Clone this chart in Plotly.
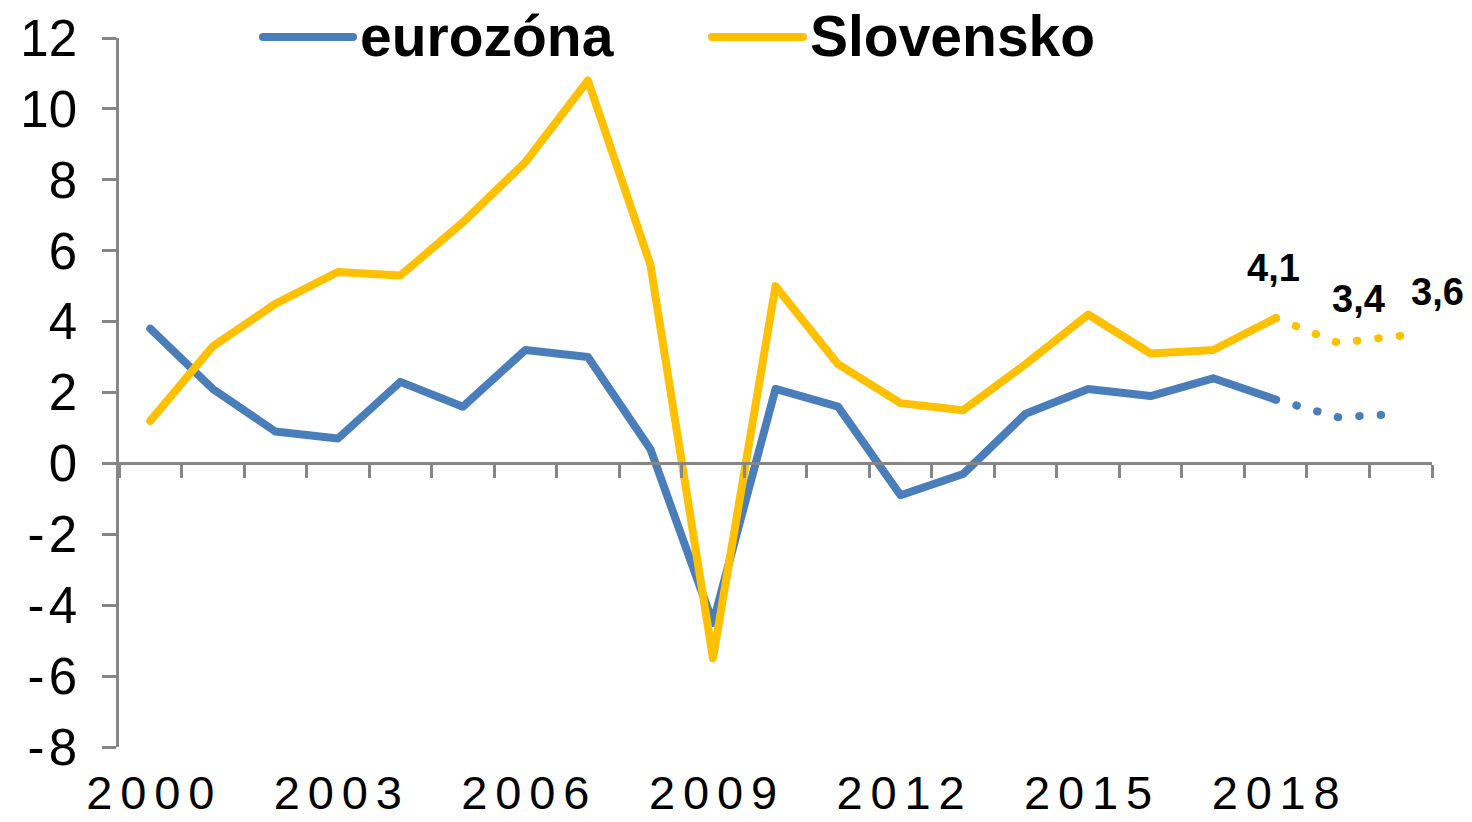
import plotly.graph_objects as go

# ---------------- data ----------------
years = list(range(2000, 2021))
euro = [3.8, 2.1, 0.9, 0.7, 2.3, 1.6, 3.2, 3.0, 0.4, -4.5, 2.1, 1.6, -0.9, -0.3,
        1.4, 2.1, 1.9, 2.4, 1.8, 1.3, 1.4]
svk = [1.2, 3.3, 4.5, 5.4, 5.3, 6.8, 8.5, 10.8, 5.6, -5.5, 5.0, 2.8, 1.7, 1.5,
       2.8, 4.2, 3.1, 3.2, 4.1, 3.4, 3.6]
series_names = ["eurozóna", "Slovensko"]
last_actual = 2018
label_years = [2018, 2019, 2020]
x_tick_years = [2000, 2003, 2006, 2009, 2012, 2015, 2018]
y_ticks = [-8, -6, -4, -2, 0, 2, 4, 6, 8, 10, 12]

# ---------------- style ----------------
BLUE = "#4A7EBB"
YELLOW = "#FFC000"
AXIS = "#868686"
FONT = "Liberation Sans, Arial, sans-serif"
W, H = 1472, 822
L, R, T, B = 119, 1432, 38, 747
LW = 8
HS = "\u200a"  # hair space
GAP = HS * 2   # character spacing of year labels

def px(x):
    return (x - L) / (R - L)

def py(y):
    return (B - y) / (B - T)

def ylab(v):
    return ("-" + HS + str(abs(v))) if v < 0 else str(v)

n_act = years.index(last_actual) + 1

fig = go.Figure()
for name, vals, col in [(series_names[0], euro, BLUE), (series_names[1], svk, YELLOW)]:
    fig.add_trace(go.Scatter(x=years[:n_act], y=vals[:n_act], mode="lines",
                             line=dict(color=col, width=LW), name=name,
                             showlegend=False, hoverinfo="skip"))
    fig.add_trace(go.Scatter(x=years[n_act - 1:], y=vals[n_act - 1:], mode="lines",
                             line=dict(color=col, width=LW, dash="0.5px,21px"),
                             showlegend=False, hoverinfo="skip"))

# dummy trace to attach the zero-line axis
fig.add_trace(go.Scatter(x=[years[0]], y=[0], xaxis="x2", mode="markers",
                         marker=dict(opacity=0), showlegend=False, hoverinfo="skip"))

# value labels for Slovensko
label_offsets = [(-2, 50), (20, 44), (37, 44)]
for yr, (dx, dy) in zip(label_years, label_offsets):
    v = svk[years.index(yr)]
    fig.add_annotation(x=yr, y=v, xref="x", yref="y", text=f"{v:.1f}".replace(".", ","),
                       showarrow=False, xshift=dx, yshift=dy,
                       font=dict(family=FONT, size=38, color="black", weight="bold"))

# manual legend
legend_items = [(series_names[0], BLUE, 263, 353, 358), (series_names[1], YELLOW, 712, 803, 808)]
for name, col, x0, x1, tx in legend_items:
    fig.add_shape(type="line", xref="paper", yref="paper", x0=px(x0), x1=px(x1),
                  y0=py(37), y1=py(37), line=dict(color=col, width=LW))
    fig.add_annotation(xref="paper", yref="paper", x=px(tx), y=py(36), text=name,
                       showarrow=False, xanchor="left", yanchor="middle",
                       font=dict(family=FONT, size=57, color="black", weight="bold"))

x_bounds = [y - 0.5 for y in years] + [years[-1] + 0.5]
rng_x = [years[0] - 0.5, years[-1] + 0.5]
rng_y = [y_ticks[0], y_ticks[-1]]
zero_pos = (0 - rng_y[0]) / (rng_y[1] - rng_y[0])

fig.update_layout(
    width=W, height=H,
    margin=dict(l=L, r=W - R, t=T, b=H - B),
    paper_bgcolor="white", plot_bgcolor="white",
    font=dict(family=FONT, color="black"),
    showlegend=False,
    xaxis=dict(range=rng_x, tickmode="array", tickvals=x_tick_years,
               ticktext=[GAP.join(str(v)) for v in x_tick_years], showgrid=False,
               zeroline=False, showline=False, ticks="", ticklabelstandoff=14,
               automargin=False,
               tickfont=dict(size=47, family=FONT, color="black")),
    xaxis2=dict(range=rng_x, overlaying="x", anchor="free", position=zero_pos,
                side="bottom", tickmode="array", tickvals=x_bounds,
                showticklabels=False, ticks="outside", ticklen=13, tickwidth=2.5,
                tickcolor=AXIS, showline=True, linecolor=AXIS, linewidth=2.5,
                showgrid=False, zeroline=False, automargin=False),
    yaxis=dict(range=rng_y, tickmode="array", tickvals=y_ticks,
               ticktext=[ylab(v) for v in y_ticks], showgrid=False, zeroline=False,
               showline=True, linecolor=AXIS, linewidth=2.5, ticks="outside",
               ticklen=14, tickwidth=2.5, tickcolor=AXIS, ticklabelstandoff=15,
               automargin=False,
               tickfont=dict(size=51, family=FONT, color="black")),
)

post = """
document.documentElement.style.margin='0';
document.body.style.margin='0';
document.body.style.overflow='hidden';
var gd=document.getElementById('{plot_id}');
function rc(){
  gd.querySelectorAll('.scatterlayer .js-line, .shapelayer path').forEach(function(p){
    p.style.strokeLinecap='round'; p.style.strokeLinejoin='round';});
}
rc(); gd.on('plotly_afterplot', rc);
"""
fig.write_html("out.html", post_script=post, config={"displayModeBar": False})
